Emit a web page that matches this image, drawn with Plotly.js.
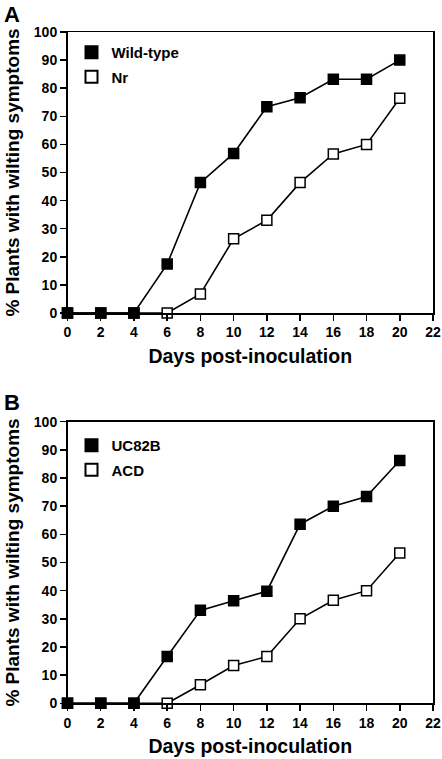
<!DOCTYPE html>
<html>
<head>
<meta charset="utf-8">
<script src="https://cdn.plot.ly/plotly-3.0.1.min.js"></script>
<style>html,body{margin:0;padding:0;background:#fff;}#chart{width:442px;height:759px;}</style>
</head>
<body>
<div id="chart"></div>
<script>
const days = [0, 2, 4, 6, 8, 10, 12, 14, 16, 18, 20];
const wildType = [0, 0, 0, 17.4, 46.4, 56.8, 73.4, 76.6, 83.2, 83.2, 90.0];
const nr = [0, 0, 0, 0, 6.8, 26.4, 33.0, 46.4, 56.6, 60.0, 76.4];
const uc82b = [0, 0, 0, 16.6, 33.0, 36.4, 39.8, 63.6, 70.0, 73.4, 86.2];
const acd = [0, 0, 0, 0, 6.6, 13.4, 16.6, 30.0, 36.6, 40.0, 53.4];
const xTickVals = [0, 2, 4, 6, 8, 10, 12, 14, 16, 18, 20, 22];
const yTickVals = [0, 10, 20, 30, 40, 50, 60, 70, 80, 90, 100];
const panelLabels = ['A', 'B'];
const xTitle = 'Days post-inoculation';
const yTitle = '% Plants with wilting symptoms';

const FONT = 'Liberation Sans, Arial, Helvetica, sans-serif';
const W = 442, H = 759;

function series(x, y, name, filled, xa, ya, legend, rank) {
  const line = {
    x: x, y: y, xaxis: xa, yaxis: ya, mode: 'lines', showlegend: false,
    line: {color: '#000', width: 1.6}, hoverinfo: 'skip', cliponaxis: false
  };
  const pts = {
    x: x, y: y, xaxis: xa, yaxis: ya, mode: 'markers', name: name,
    legend: legend, legendrank: rank, legendgroup: name,
    marker: {symbol: 'square', size: 10, color: filled ? '#000' : '#fff',
             line: {color: '#000', width: 1.5}},
    cliponaxis: false
  };
  return [line, pts];
}

const data = [].concat(
  series(days, nr, 'Nr', false, 'x', 'y', 'legend', 2),
  series(days, wildType, 'Wild-type', true, 'x', 'y', 'legend', 1),
  series(days, acd, 'ACD', false, 'x2', 'y2', 'legend2', 2),
  series(days, uc82b, 'UC82B', true, 'x2', 'y2', 'legend2', 1)
);

const xd = [67.5 / W, 433 / W];
const yA = [1 - 313 / H, 1 - 32 / H];
const yB = [1 - 703.3 / H, 1 - 421.7 / H];

function xaxis(anchor, domain) {
  return {
    domain: domain, anchor: anchor, range: [0, 22], tickvals: xTickVals,
    ticks: 'outside', ticklen: 6, tickwidth: 1.5, tickcolor: '#000',
    showline: true, mirror: true, linewidth: 1.5, linecolor: '#000',
    showgrid: false, zeroline: false,
    tickfont: {family: FONT, size: 14, color: '#000', weight: 'bold'},
    title: {text: xTitle, font: {family: FONT, size: 19.5, color: '#000', weight: 'bold'}, standoff: 10}
  };
}
function yaxis(anchor, domain) {
  return {
    domain: domain, anchor: anchor, range: [0, 100], tickvals: yTickVals,
    ticks: 'outside', ticklen: 6, tickwidth: 1.5, tickcolor: '#000',
    showline: true, mirror: true, linewidth: 1.5, linecolor: '#000',
    showgrid: false, zeroline: false,
    tickfont: {family: FONT, size: 14, color: '#000', weight: 'bold'},
    title: {text: yTitle, font: {family: FONT, size: 19, color: '#000', weight: 'bold'}, standoff: 9}
  };
}
function legend(topPx, leftPx) {
  return {
    x: leftPx / W, y: 1 - topPx / H, xanchor: 'left', yanchor: 'top',
    bgcolor: 'rgba(0,0,0,0)', borderwidth: 0,
    font: {family: FONT, size: 15, color: '#000', weight: 'bold'},
    traceorder: 'grouped', tracegroupgap: 2, itemsizing: 'constant'
  };
}

const layout = {
  width: W, height: H,
  margin: {l: 0, r: 0, t: 0, b: 0},
  paper_bgcolor: '#fff', plot_bgcolor: '#fff',
  font: {family: FONT, color: '#000'},
  xaxis: xaxis('y', xd),
  yaxis: yaxis('x', yA),
  xaxis2: xaxis('y2', xd),
  yaxis2: yaxis('x2', yB),
  legend: legend(36, 71.5),
  legend2: legend(429, 71.5),
  annotations: [
    {text: panelLabels[0], x: 2 / W, y: 1 - 0 / H, xref: 'paper', yref: 'paper',
     xanchor: 'left', yanchor: 'top', showarrow: false,
     font: {family: FONT, size: 22, color: '#000', weight: 'bold'}},
    {text: panelLabels[1], x: 2 / W, y: 1 - 388 / H, xref: 'paper', yref: 'paper',
     xanchor: 'left', yanchor: 'top', showarrow: false,
     font: {family: FONT, size: 22, color: '#000', weight: 'bold'}}
  ],
  showlegend: true
};

Plotly.newPlot('chart', data, layout, {displayModeBar: false, staticPlot: true});
</script>
</body>
</html>
